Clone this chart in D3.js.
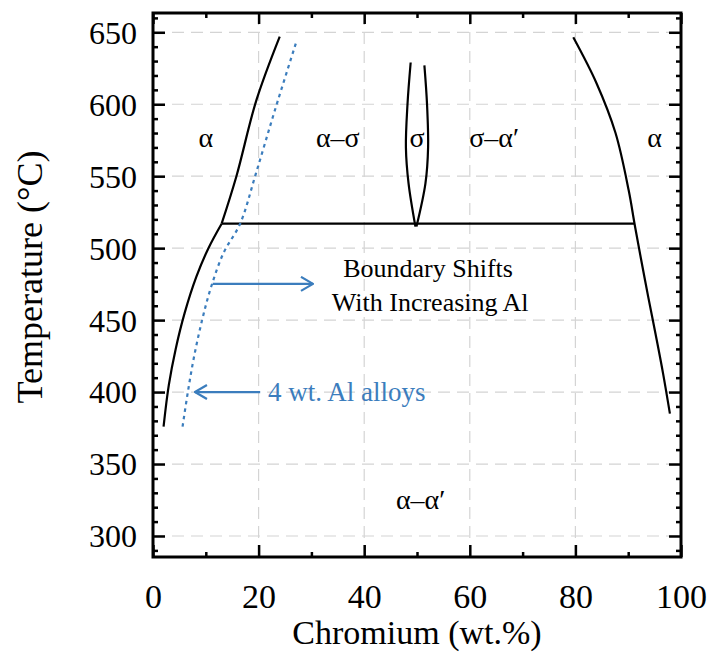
<!DOCTYPE html>
<html>
<head>
<meta charset="utf-8">
<script src="https://d3js.org/d3.v7.min.js"></script>
<style>
    body { margin: 0; background: #fff; }
    svg { display: block; }
    text { font-family: "Liberation Serif", "DejaVu Serif", serif; }
</style>
</head>
<body>
<svg id="chart"></svg>
<script>
// ---- data (Cr in wt.%, temperature in °C) ----
const leftLowerCr = [2.0, 3.0, 4.3, 6.0, 8.2, 10.5, 13.0]
const leftLowerT  = [376, 405, 430, 455, 480, 500, 517]
const leftUpperCr = [13.0, 15.8, 19.6, 24.0]
const leftUpperT  = [517, 550, 603, 647]
const alCr = [5.6, 6.6, 7.8, 9.3, 11.0, 13.4, 16.5, 19.5, 23.1, 27.2]
const alT  = [376, 400, 425, 450, 473, 497, 517, 552, 596, 644]
const sigmaLeftCr  = [48.8, 48.2, 47.9, 48.4, 49.7]
const sigmaLeftT   = [629, 600, 570, 545, 515]
const sigmaRightCr = [51.4, 51.9, 52.1, 51.6, 49.9]
const sigmaRightT  = [627, 600, 570, 545, 515]
const rightCr = [79.6, 84.0, 87.6, 90.1, 91.2, 92.4, 93.8, 95.2, 96.6, 97.9]
const rightT  = [646.5, 614.6, 580, 540, 517, 493, 466, 440, 413, 385]
const eutectoidCr = [13.0, 91.2]
const eutectoidT  = [517, 517]

const arrowFromCr = [11.3, 20.3]
const arrowToCr   = [30.3, 7.95]
const arrowT      = [475.2, 400]

const phaseLabels = ["α", "α–σ", "σ", "σ–α′", "α", "α–α′"]
const phaseCr     = [10.0, 35.0, 50.0, 64.6, 95.0, 50.7]
const phaseT      = [570.3, 570.3, 570.3, 570.3, 570.3, 318.7]

const noteLabels = ["Boundary Shifts", "With Increasing Al"]
const noteCr     = [52.1, 52.5]
const noteT      = [480.2, 456.3]
const alLabel = "4 wt. Al alloys"
const alLabelCr = 21.8, alLabelT = 394

const xMajor = [0, 20, 40, 60, 80, 100]
const xMinor = [10, 30, 50, 70, 90]
const yMajor = [300, 350, 400, 450, 500, 550, 600, 650]
const yMinor = [290, 310, 320, 330, 340, 360, 370, 380, 390, 410, 420, 430, 440,
                460, 470, 480, 490, 510, 520, 530, 540, 560, 570, 580, 590,
                610, 620, 630, 640, 660]

// ---- layout ----
const W = 708, H = 652
const mLeft = 153, mRight = 681, mTop = 13, mBottom = 557
const blue = "#3b7dbd"

const svg = d3.select("#chart").attr("width", W).attr("height", H)

const x = d3.scaleLinear().domain([0, 100]).range([mLeft, mRight])
const y = d3.scaleLinear().domain([285.4, 663.4]).range([mBottom, mTop])

// grid
const grid = svg.append("g").attr("stroke", "#d4d4d4").attr("stroke-width", 1.2)
    .attr("stroke-dasharray", "12,7")
grid.selectAll(".gx").data(xMajor.slice(1, -1)).join("line")
    .attr("x1", d => x(d)).attr("x2", d => x(d))
    .attr("y1", mBottom).attr("y2", mTop)
grid.selectAll(".gy").data(yMajor).join("line")
    .attr("x1", mLeft).attr("x2", mRight)
    .attr("y1", d => y(d)).attr("y2", d => y(d))

// axes (inward ticks)
function styleAxis(g) {
    g.select(".domain").remove()
    g.selectAll(".tick line").attr("stroke", "#000").attr("stroke-width", 2.5)
    g.selectAll("text").attr("fill", "#000").style("font-family", "Liberation Serif")
}
svg.append("g").attr("transform", `translate(0,${mBottom})`)
    .call(d3.axisBottom(x).tickValues(xMajor).tickSize(-12).tickPadding(27))
    .call(styleAxis)
    .selectAll("text").style("font-size", "34px")
svg.append("g").attr("transform", `translate(0,${mBottom})`)
    .call(d3.axisBottom(x).tickValues(xMinor).tickSize(-5).tickFormat(""))
    .call(styleAxis)
svg.append("g").attr("transform", `translate(0,${mTop})`)
    .call(d3.axisTop(x).tickValues(xMajor).tickSize(-11).tickFormat(""))
    .call(styleAxis)
svg.append("g").attr("transform", `translate(0,${mTop})`)
    .call(d3.axisTop(x).tickValues(xMinor).tickSize(-5).tickFormat(""))
    .call(styleAxis)
svg.append("g").attr("transform", `translate(${mLeft},0)`)
    .call(d3.axisLeft(y).tickValues(yMajor).tickSize(-12).tickPadding(16))
    .call(styleAxis)
    .selectAll("text").style("font-size", "32px").attr("dy", "0.34em")
svg.append("g").attr("transform", `translate(${mLeft},0)`)
    .call(d3.axisLeft(y).tickValues(yMinor).tickSize(-5).tickFormat(""))
    .call(styleAxis)
svg.append("g").attr("transform", `translate(${mRight},0)`)
    .call(d3.axisRight(y).tickValues(yMajor).tickSize(-12).tickFormat(""))
    .call(styleAxis)
svg.append("g").attr("transform", `translate(${mRight},0)`)
    .call(d3.axisRight(y).tickValues(yMinor).tickSize(-5).tickFormat(""))
    .call(styleAxis)

// frame
svg.append("rect")
    .attr("x", mLeft).attr("y", mTop)
    .attr("width", mRight - mLeft).attr("height", mBottom - mTop)
    .attr("fill", "none").attr("stroke", "#000").attr("stroke-width", 3)

// boundaries
const line = d3.line().x(d => x(d[0])).y(d => y(d[1])).curve(d3.curveCatmullRom.alpha(0.5))
const pts = (a, b) => a.map((v, i) => [v, b[i]])

const curves = svg.append("g").attr("fill", "none").attr("stroke", "#000").attr("stroke-width", 2.2)
curves.append("path").attr("d", line(pts(leftLowerCr, leftLowerT)))
curves.append("path").attr("d", line(pts(leftUpperCr, leftUpperT)))
curves.append("path").attr("d", line(pts(sigmaLeftCr, sigmaLeftT)))
curves.append("path").attr("d", line(pts(sigmaRightCr, sigmaRightT)))
curves.append("path").attr("d", line(pts(rightCr, rightT)))
curves.append("path").attr("d", line(pts(eutectoidCr, eutectoidT)))

svg.append("path")
    .attr("d", line(pts(alCr, alT)))
    .attr("fill", "none").attr("stroke", blue).attr("stroke-width", 2.2)
    .attr("stroke-dasharray", "3.5,4")

// arrows
svg.append("defs").append("marker")
    .attr("id", "arrow").attr("viewBox", "0 -8 14 16")
    .attr("refX", 13).attr("refY", 0)
    .attr("markerWidth", 14).attr("markerHeight", 16)
    .attr("markerUnits", "userSpaceOnUse").attr("orient", "auto")
    .append("path").attr("d", "M1,-7L13,0L1,7")
    .attr("fill", "none").attr("stroke", blue).attr("stroke-width", 2.2)

svg.append("g").selectAll("line").data(arrowT).join("line")
    .attr("x1", (d, i) => x(arrowFromCr[i])).attr("x2", (d, i) => x(arrowToCr[i]))
    .attr("y1", d => y(d)).attr("y2", d => y(d))
    .attr("stroke", blue).attr("stroke-width", 2.2)
    .attr("marker-end", "url(#arrow)")

// labels
svg.append("g").selectAll("text").data(phaseLabels).join("text")
    .attr("x", (d, i) => x(phaseCr[i])).attr("y", (d, i) => y(phaseT[i]))
    .attr("text-anchor", "middle").style("font-size", "28px").text(d => d)

svg.append("g").selectAll("text").data(noteLabels).join("text")
    .attr("x", (d, i) => x(noteCr[i])).attr("y", (d, i) => y(noteT[i]))
    .attr("text-anchor", "middle").style("font-size", "26px").text(d => d)

svg.append("text")
    .attr("x", x(alLabelCr)).attr("y", y(alLabelT))
    .attr("fill", blue).style("font-size", "27px").text(alLabel)

// axis titles
svg.append("text")
    .attr("x", (mLeft + mRight) / 2).attr("y", 644)
    .attr("text-anchor", "middle").style("font-size", "34px")
    .text("Chromium (wt.%)")
svg.append("text")
    .attr("transform", "translate(42,277) rotate(-90)")
    .attr("text-anchor", "middle").style("font-size", "36px")
    .text("Temperature (°C)")
</script>
</body>
</html>
